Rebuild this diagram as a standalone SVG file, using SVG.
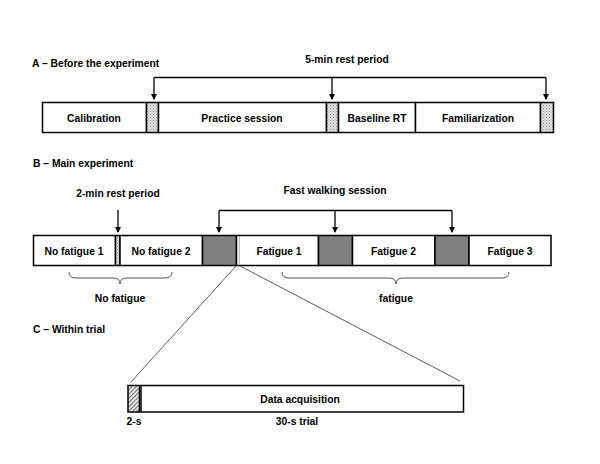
<svg xmlns="http://www.w3.org/2000/svg" width="600" height="464" viewBox="0 0 600 464">
<defs>
<pattern id="dots" width="3" height="3" patternUnits="userSpaceOnUse">
<rect width="3" height="3" fill="#e4e4e4"/>
<rect x="0" y="0" width="1" height="1" fill="#888"/>
<rect x="1.5" y="1.5" width="1" height="1" fill="#aaa"/>
</pattern>
<pattern id="hatch" width="3" height="3" patternUnits="userSpaceOnUse" patternTransform="rotate(45)">
<rect width="3" height="3" fill="#fff"/>
<rect width="1.4" height="3" fill="#777"/>
</pattern>
<marker id="arr" viewBox="0 0 6 6" refX="5" refY="3" markerWidth="6" markerHeight="6" orient="auto" markerUnits="userSpaceOnUse">
<path d="M0,0 L6,3 L0,6 z" fill="#000"/>
</marker>
</defs>
<style>
text{font-family:"Liberation Sans",Arial,sans-serif;font-weight:bold;font-size:10.3px;fill:#000}
.c{text-anchor:middle}
.box{fill:#fff;stroke:#000;stroke-width:1.5}
.rest{fill:url(#dots);stroke:#000;stroke-width:1.5}
.grey{fill:#808080;stroke:#000;stroke-width:1.5}
.hat{fill:url(#hatch);stroke:#000;stroke-width:1.5}
.ln{fill:none;stroke:#000;stroke-width:1.3}
.arw{fill:none;stroke:#000;stroke-width:1.3;marker-end:url(#arr)}
.thin{fill:none;stroke:#333;stroke-width:0.8}
.brace{fill:none;stroke:#555;stroke-width:1}
</style>
<rect width="600" height="464" fill="#fff"/>

<text x="32" y="67">A – Before the experiment</text>
<text x="347" y="63" class="c">5-min rest period</text>
<text x="33" y="167">B – Main experiment</text>
<text x="118" y="197" class="c">2-min rest period</text>
<text x="335" y="194" class="c">Fast walking session</text>
<text x="33" y="333">C – Within trial</text>

<g id="rowA">
<g id="calibration"><rect class="box" x="42.5" y="102.5" width="104" height="30"/><text x="94" y="122" class="c">Calibration</text></g>
<g id="restA1"><rect class="rest" x="146.5" y="102.5" width="12" height="30"/></g>
<g id="practice"><rect class="box" x="158.5" y="102.5" width="168" height="30"/><text x="242" y="122" class="c">Practice session</text></g>
<g id="restA2"><rect class="rest" x="326.5" y="102.5" width="12" height="30"/></g>
<g id="baseline"><rect class="box" x="338.5" y="102.5" width="77" height="30"/><text x="377" y="122" class="c">Baseline RT</text></g>
<g id="familiarization"><rect class="box" x="415.5" y="102.5" width="125" height="30"/><text x="478" y="122" class="c">Familiarization</text></g>
<g id="restA3"><rect class="rest" x="540.5" y="102.5" width="13" height="30"/></g>
</g>

<g id="rowB">
<g id="nofatigue1"><rect class="box" x="33.5" y="235.5" width="82" height="30"/><text x="74" y="255" class="c">No fatigue 1</text></g>
<g id="restB"><rect class="rest" x="115.5" y="235.5" width="4.5" height="30"/></g>
<g id="nofatigue2"><rect class="box" x="120" y="235.5" width="82.5" height="30"/><text x="161" y="255" class="c">No fatigue 2</text></g>
<g id="walk1"><rect class="grey" x="202.5" y="235.5" width="34" height="30"/></g>
<g id="fatigue1"><rect class="box" x="236.5" y="235.5" width="82" height="30"/><line x1="239.3" y1="236.5" x2="239.3" y2="264.5" stroke="#999" stroke-width="0.8"/><text x="279" y="255" class="c">Fatigue 1</text></g>
<g id="walk2"><rect class="grey" x="318.5" y="235.5" width="34" height="30"/></g>
<g id="fatigue2"><rect class="box" x="352.5" y="235.5" width="82.5" height="30"/><text x="393.5" y="255" class="c">Fatigue 2</text></g>
<g id="walk3"><rect class="grey" x="435" y="235.5" width="34" height="30"/></g>
<g id="fatigue3"><rect class="box" x="469" y="235.5" width="82" height="30"/><text x="510" y="255" class="c">Fatigue 3</text></g>
</g>

<g id="braces">
<path class="brace" d="M69,272 Q69,278 76,278 L113,278 Q120,278 120,284 Q120,278 127,278 L165,278 Q172,278 172,272"/>
<text x="120" y="302" class="c">No fatigue</text>
<path class="brace" d="M282,272 Q282,278 289,278 L389,278 Q396,278 396,284 Q396,278 403,278 L502,278 Q509,278 509,272"/>
<text x="396" y="302" class="c">fatigue</text>
</g>

<g id="rowC">
<g id="wait"><rect class="hat" x="128" y="385.5" width="11.5" height="26.5"/></g>
<g id="acquisition"><rect class="box" x="141" y="385.5" width="322.5" height="26.5"/><text x="300" y="403" class="c">Data acquisition</text></g>
<text x="134" y="425" class="c">2-s</text>
<text x="297" y="425" class="c">30-s trial</text>
</g>

<g id="connectors">
<path class="ln" d="M154,77.5 L546,77.5"/>
<path class="arw" d="M154,77.5 L154,99"/>
<path class="arw" d="M332,77.5 L332,99"/>
<path class="arw" d="M546,77.5 L546,99"/>
<path class="arw" d="M118,210 L118,232"/>
<path class="ln" d="M219,210.5 L452,210.5"/>
<path class="arw" d="M219,210.5 L219,232"/>
<path class="arw" d="M335,210.5 L335,232"/>
<path class="arw" d="M452,210.5 L452,232"/>
<path class="thin" d="M236,266 L131,382"/>
<path class="thin" d="M240,266 L460,381"/>
</g>
</svg>
